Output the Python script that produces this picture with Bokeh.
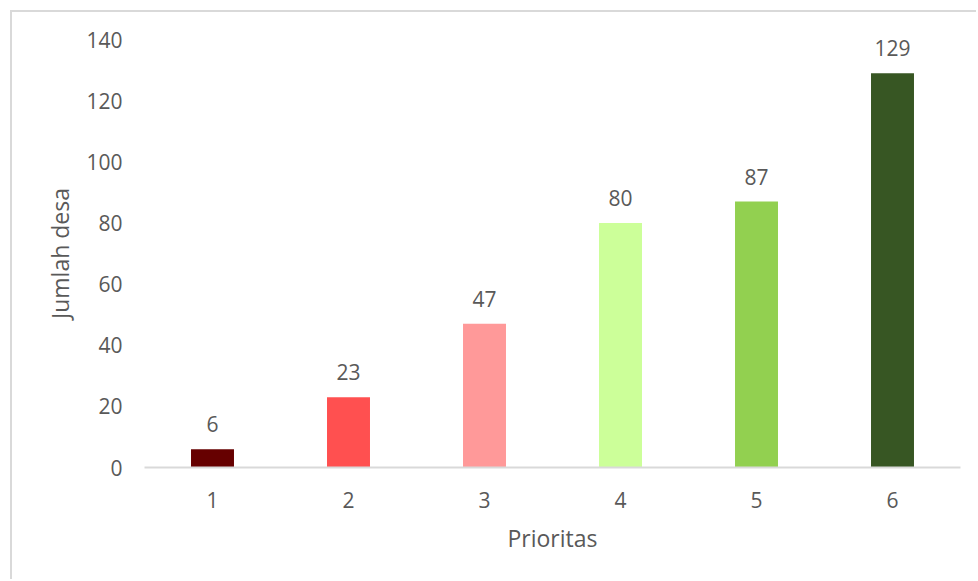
from bokeh.plotting import figure
from bokeh.models import ColumnDataSource, FixedTicker
from bokeh.core.properties import value
from bokeh.embed import file_html
from bokeh.resources import INLINE

# Number of villages per priority class
priorities = ["1", "2", "3", "4", "5", "6"]
counts = [6, 23, 47, 80, 87, 129]
colors = ["#660000", "#FF5050", "#FF9999", "#CCFF99", "#92D050", "#375623"]
y_ticks = [0, 20, 40, 60, 80, 100, 120, 140]

FONT = "Open Sans"
TEXT_COLOR = "#595959"

source = ColumnDataSource(dict(
    x=priorities,
    count=counts,
    color=colors,
    label=[str(c) for c in counts],
))

# The chart sits inside a light grey frame offset from the page corner
p = figure(
    x_range=priorities,
    y_range=(0, 140),
    width=966,
    height=569,
    output_backend="svg",
    toolbar_location=None,
    min_border_left=132,
    min_border_right=18,
    min_border_top=27,
    min_border_bottom=114,
)
p.margin = (10, 0, 0, 10)
p.styles = {
    "border-top": "2px solid #d9d9d9",
    "border-left": "2px solid #d9d9d9",
}

p.vbar(x="x", top="count", width=0.316, fill_color="color", line_color=None, source=source)

p.text(
    x="x", y="count", text="label", source=source,
    text_align="center", text_baseline="alphabetic",
    y_offset=-25,
    text_font=value(FONT), text_font_size="21px", text_color=TEXT_COLOR,
)

p.outline_line_color = None
p.xgrid.grid_line_color = None
p.ygrid.grid_line_color = None
p.x_range.range_padding = 0

p.yaxis.ticker = FixedTicker(ticks=y_ticks)
p.yaxis.axis_line_color = None
p.yaxis.major_tick_line_color = None
p.yaxis.minor_tick_line_color = None
p.yaxis.major_label_standoff = 16
p.yaxis.axis_label = "Jumlah desa"
p.yaxis.axis_label_standoff = 7

p.xaxis.axis_line_color = "#d9d9d9"
p.xaxis.axis_line_width = 2
p.xaxis.major_tick_line_color = None
p.xaxis.minor_tick_line_color = None
p.xaxis.major_label_standoff = 18
p.xaxis.axis_label = "Prioritas"
p.xaxis.axis_label_standoff = 11

for ax in (p.xaxis, p.yaxis):
    ax.major_label_text_font = FONT
    ax.major_label_text_font_size = "21px"
    ax.major_label_text_color = TEXT_COLOR
    ax.axis_label_text_font = FONT
    ax.axis_label_text_font_size = "23px"
    ax.axis_label_text_font_style = "normal"
    ax.axis_label_text_color = TEXT_COLOR

open("out.html", "w").write(file_html(p, INLINE))
